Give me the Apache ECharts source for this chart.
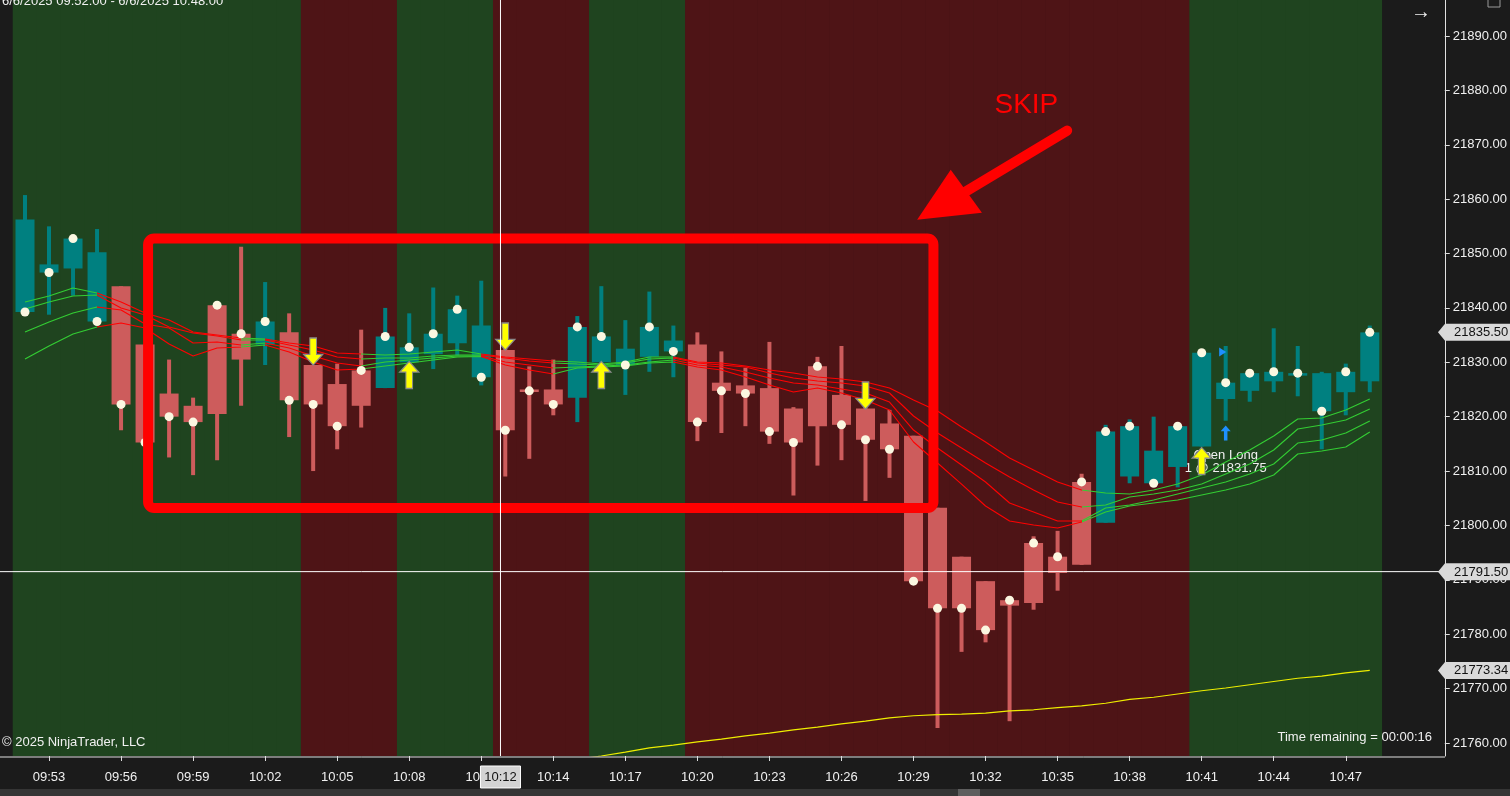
<!DOCTYPE html>
<html>
<head>
<meta charset="utf-8">
<script src="https://cdn.jsdelivr.net/npm/echarts@6/dist/echarts.min.js"></script>
<style>
html,body{margin:0;padding:0;background:#1b1b1b;}
#c{width:1510px;height:796px;}
</style>
</head>
<body>
<div id="c"></div>
<script>
const times = ['09:52','09:53','09:54','09:55','09:56','09:57','09:58','09:59',
'10:00','10:01','10:02','10:03','10:04','10:05','10:06','10:07','10:08','10:09',
'10:10','10:11','10:12','10:13','10:14','10:15','10:16','10:17','10:18','10:19',
'10:20','10:21','10:22','10:23','10:24','10:25','10:26','10:27','10:28','10:29',
'10:30','10:31','10:32','10:33','10:34','10:35','10:36','10:37','10:38','10:39',
'10:40','10:41','10:42','10:43','10:44','10:45','10:46','10:47','10:48'];

const open = [21856.25,21848,21847.25,21850.25,21844,21833.25,21824.25,21822,21820.5,21830.5,
21833.25,21835.5,21829.5,21826,21822,21825.25,21830,21831.5,21833.5,21836.75,
21832.25,21825,21825,21823.5,21830,21832.5,21831,21834,21833.25,21826.25,
21825.75,21825.25,21821.5,21818.25,21824,21821.5,21818.75,21816.5,21803.25,21794.25,
21789.75,21785.25,21785.75,21791.25,21792.75,21800.5,21809,21813.75,21810.75,21814.5,
21823.25,21824.75,21826.5,21827.75,21828,21824.5,21826.5];
const high = [21860.75,21855,21852.75,21854.5,21844,21833.25,21830.5,21823.5,21840.5,21851.25,
21844.75,21839,21829.5,21829.75,21836,21840,21839,21843.75,21842.25,21845,
21833,21829.25,21830.5,21838.5,21844,21837.75,21843,21836.75,21835.5,21832,
21829,21833.75,21821.75,21831,21833,21822,21821.25,21816.5,21803.25,21794.25,
21789.75,21786.25,21798,21799,21809.5,21818.5,21819.5,21820,21818.25,21831.75,
21833,21828,21836.25,21833,21828.25,21829.75,21836.75];
const low = [21839.25,21838.75,21842.25,21837.5,21817.5,21814.75,21812.5,21809.25,21812,21822,
21829.5,21816.25,21810,21814,21818,21825.25,21829.5,21828.75,21831.25,21825.75,
21809,21812.25,21820.25,21819,21829.5,21824,21828.25,21827.25,21815.5,21817,
21818.25,21815,21805.5,21811,21812,21804.5,21808.75,21789.75,21762.75,21776.75,
21778.5,21764,21784.5,21788,21792.75,21800.5,21807.75,21807.75,21807,21814.5,
21819.25,21822.75,21824.5,21823.75,21814,21820.25,21824.5];
const close = [21839.25,21846.5,21852.75,21837.5,21822.25,21815.25,21820,21819,21840.5,21835.25,
21837.5,21823,21822.25,21818.25,21828.5,21834.75,21832.75,21835.25,21839.75,21827.25,
21817.5,21824.75,21822.25,21836.5,21834.75,21829.5,21836.5,21832,21819,21824.75,
21824.25,21817.25,21815.25,21829.25,21818.5,21815.75,21814,21789.75,21784.75,21784.75,
21780.75,21786.25,21796.75,21794.25,21808,21817.25,21818.25,21807.75,21818.25,21831.75,
21826.25,21828,21828.25,21828,21821,21828.25,21835.5];

// bar paint: T = teal, R = salmon
const barPaint = 'TTTTRRRRRRTRRRRTTTTTRRRTTTTTRRRRRRRRRRRRRRRRRTTTTTTTTTTTT'.split('');
// background regime: G = green, R = red
const bandPaint = 'GGGGGGGGGGGGRRRRGGGGRRRRGGGGRRRRRRRRRRRRRRRRRRRRRGGGGGGGG'.split('');

const ribbon1 = [21841.08,21842.19,21843.66,21842.74,21841.08,21839.06,21837.77,21835.57,21835.01,21834.46,
21834.28,21833.54,21832.99,21831.7,21831.52,21831.34,21831.52,21831.89,21832.26,21831.52,
21830.97,21830.6,21830.23,21830.05,21829.68,21830.05,21830.97,21830.97,21830.05,21829.87,
21829.31,21828.58,21828.03,21827.29,21826.92,21826.37,21825.27,21823.06,21821.04,21818.1,
21815.34,21812.4,21810.19,21807.98,21806.51,21805.96,21805.78,21806.51,21807.61,21809.27,
21811.66,21813.87,21816.44,21819.57,21819.75,21821.22,21823.25];
const ribbon2 = [21839.8,21841.08,21842.19,21842.37,21839.98,21838.69,21836.49,21835.38,21834.83,21834.09,
21834.09,21833.18,21832.26,21830.97,21830.6,21830.78,21830.78,21831.15,21831.34,21831.34,
21830.78,21830.23,21829.87,21829.68,21829.5,21829.87,21830.6,21830.78,21829.87,21829.5,
21829.13,21828.03,21827.11,21826.56,21826.19,21825.64,21824.35,21820.12,21816.99,21814.23,
21811.48,21808.9,21806.51,21804.3,21803.39,21803.75,21805.22,21805.78,21806.51,21807.61,
21809.45,21811.29,21813.87,21817.73,21818.46,21819.38,21821.41];
const ribbon3 = [21835.57,21837.4,21839.06,21840.16,21839.61,21837.04,21836.3,21833.54,21833.73,21833.18,
21833.54,21832.62,21831.15,21829.87,21829.31,21830.05,21830.42,21830.78,21831.15,21831.15,
21830.05,21829.5,21828.95,21829.13,21829.31,21829.5,21830.05,21830.42,21829.5,21829.13,
21828.21,21827.11,21826.19,21825.82,21825.08,21824.35,21822.69,21817.54,21814.23,21811.11,
21807.98,21804.12,21802.47,21800.81,21800.81,21803.2,21803.75,21804.67,21805.78,21806.88,
21807.98,21809.45,21811.29,21815.15,21815.71,21816.99,21819.2];
const ribbon4 = [21830.6,21832.99,21835.2,21836.49,21837.22,21836.3,21833.36,21831.15,21832.62,21832.81,
21833.18,21831.89,21830.05,21828.58,21828.76,21829.31,21829.87,21830.42,21830.97,21831.06,
21829.5,21828.58,21827.84,21828.95,21829.13,21829.31,21829.87,21830.05,21829.13,21828.58,
21827.29,21825.82,21824.53,21825.27,21824.35,21823.06,21821.22,21815.34,21811.48,21807.61,
21803.57,21800.81,21800.08,21799.52,21800.63,21802.47,21803.57,21804.12,21804.67,21805.59,
21806.51,21807.61,21809.27,21813.13,21813.68,21814.42,21817.18];

const slowMA = [null,null,null,null,null,null,null,null,null,null,
null,null,null,null,null,null,null,null,null,null,
null,null,21756.3,21757.0,21757.6,21758.3,21759.1,21759.6,21760.2,21760.7,
21761.3,21761.8,21762.4,21762.9,21763.5,21764.0,21764.6,21765.0,21765.2,21765.3,
21765.5,21765.9,21766.1,21766.5,21766.8,21767.3,21768.0,21768.4,21769.0,21769.6,
21770.1,21770.7,21771.3,21771.9,21772.3,21772.9,21773.34];

const upSignalBars = [16, 24, 49];
const upSignalPrices = [21827.66, 21827.66, 21811.85];
const downSignalBars = [12, 20, 35];
const downSignalPrices = [21831.98, 21834.74, 21823.89];

const yTicks = [21760,21770,21780,21790,21800,21810,21820,21830,21840,21850,21860,21870,21880,21890];
const priceTags = [21835.50, 21791.50, 21773.34];
const crosshairPrice = 21791.50;

const TEAL = '#008080', SALMON = '#cd5c5c';
const BAND_G = '#1f441f', BAND_R = '#4e1416';
const RIB_G = '#32cd32', RIB_R = '#ff0000';
const FONT = '"Liberation Sans", Arial, sans-serif';

const chart = echarts.init(document.getElementById('c'), null, {renderer: 'canvas'});

// ribbon colour pieces (segment i-1 -> i takes the colour of bar i)
const pieces = [];
let start = 0;
for (let i = 1; i <= barPaint.length; i++) {
  if (i === barPaint.length || barPaint[i] !== barPaint[start]) {
    pieces.push({gt: start - 1, lte: i - 1, color: barPaint[start] === 'T' ? RIB_G : RIB_R});
    start = i;
  }
}

const Y_MIN = 21757.6, Y_MAX = 21896.62;

function ribbonSeries(data) {
  return {type: 'line', data: data, symbol: 'none', z: 4, lineStyle: {width: 1.1}, silent: true, animation: false};
}

const upArrow = 'path://M10,0 L20,11 L13.5,11 L13.5,28 L6.5,28 L6.5,11 L0,11 Z';
const downArrow = 'path://M6.5,0 L13.5,0 L13.5,17 L20,17 L10,28 L0,17 L6.5,17 Z';

chart.setOption({
  backgroundColor: '#1b1b1b',
  animation: false,
  grid: {left: 13, right: 127, top: 0, bottom: 40, containLabel: false},
  xAxis: {
    type: 'category', data: times, boundaryGap: true,
    axisLine: {show: false},
    axisTick: {show: true, alignWithLabel: true, length: 5, interval: (i) => (i - 1) % 3 === 0,
      lineStyle: {color: '#dcdcdc'}},
    axisLabel: {interval: (i) => (i - 1) % 3 === 0, color: '#f0f0f0', fontSize: 13, fontFamily: FONT, margin: 15},
    splitLine: {show: false}
  },
  yAxis: {
    type: 'value', position: 'right', offset: 63, min: Y_MIN, max: Y_MAX,
    axisLine: {show: true, lineStyle: {color: '#e0e0e0'}},
    axisTick: {show: true, length: 5, customValues: yTicks, lineStyle: {color: '#e0e0e0'}},
    axisLabel: {customValues: yTicks, color: '#f0f0f0', fontSize: 13, fontFamily: FONT, margin: 8,
      formatter: (v) => v.toFixed(2)},
    splitLine: {show: false}
  },
  visualMap: {type: 'piecewise', show: false, dimension: 0, seriesIndex: [2, 3, 4, 5], pieces: pieces},
  series: [
    { // 0 background regime bands
      type: 'custom', z: 0, silent: true,
      data: times.map((t, i) => [i, Y_MIN]),
      encode: {x: 0, y: 1},
      renderItem: function (params, api) {
        const i = api.value(0);
        const p = api.coord([i, Y_MIN]);
        const w = api.size([1, 0])[0];
        const cs = params.coordSys;
        return {type: 'rect', shape: {x: p[0] - w / 2 - 0.3, y: cs.y, width: w + 0.6, height: cs.height},
          style: {fill: bandPaint[i] === 'G' ? BAND_G : BAND_R}};
      }
    },
    { // 1 slow MA
      type: 'line', data: slowMA, symbol: 'none', z: 3, silent: true,
      lineStyle: {color: '#eeee00', width: 1.2}
    },
    ribbonSeries(ribbon1), ribbonSeries(ribbon2), ribbonSeries(ribbon3), ribbonSeries(ribbon4),
    { // 6 candles
      type: 'custom', z: 2, silent: true,
      data: times.map((t, i) => [i, open[i], close[i], low[i], high[i]]),
      encode: {x: 0, y: [1, 2, 3, 4]},
      renderItem: function (params, api) {
        const i = api.value(0);
        const o = api.coord([i, api.value(1)]);
        const c = api.coord([i, api.value(2)]);
        const l = api.coord([i, api.value(3)]);
        const h = api.coord([i, api.value(4)]);
        const slot = api.size([1, 0])[0];
        const bw = Math.round(slot * 0.8);
        const ww = 4;
        const top = Math.min(o[1], c[1]);
        const bh = Math.max(Math.abs(o[1] - c[1]), 2.5);
        const col = barPaint[i] === 'T' ? TEAL : SALMON;
        return {type: 'group', children: [
          {type: 'rect', shape: {x: o[0] - ww / 2, y: h[1], width: ww, height: Math.max(l[1] - h[1], 1)}, style: {fill: col}},
          {type: 'rect', shape: {x: o[0] - bw / 2, y: top, width: bw, height: bh}, style: {fill: col}}
        ]};
      }
    },
    { // 7 close dots
      type: 'scatter', data: close, symbol: 'circle', symbolSize: 9, z: 6, silent: true,
      itemStyle: {color: '#fbf7e1', opacity: 1}
    },
    { // 8 long signals
      type: 'scatter', z: 7, silent: true,
      data: upSignalBars.map((b, k) => [b, upSignalPrices[k]]),
      symbol: upArrow, symbolSize: [19, 27],
      itemStyle: {color: '#ffff00', borderColor: '#8a8a8a', borderWidth: 1.2, opacity: 1}
    },
    { // 9 short signals
      type: 'scatter', z: 7, silent: true,
      data: downSignalBars.map((b, k) => [b, downSignalPrices[k]]),
      symbol: downArrow, symbolSize: [19, 27],
      itemStyle: {color: '#ffff00', borderColor: '#8a8a8a', borderWidth: 1.2, opacity: 1}
    },
    { // 10 entry fill marker
      type: 'scatter', z: 7, silent: true,
      data: [[50, 21817.0]], symbol: upArrow, symbolSize: [10, 15],
      itemStyle: {color: '#1e90ff', opacity: 1}
    },
    { // 11 entry triangle
      type: 'scatter', z: 7, silent: true,
      data: [[50, 21831.9]], symbol: 'triangle', symbolRotate: -90, symbolSize: [9, 7],
      symbolOffset: [-3, 0],
      itemStyle: {color: '#1e90ff', opacity: 1}
    }
  ]
});

// ---------- overlays anchored through the chart's own scales ----------
function px(idx, price) {
  const a = chart.convertToPixel({gridIndex: 0}, [0, price]);
  const b = chart.convertToPixel({gridIndex: 0}, [1, price]);
  return [a[0] + (b[0] - a[0]) * idx, a[1]];
}
function txt(text, x, y, opts, z) {
  return {type: 'text', silent: true, z: z || 100,
    style: Object.assign({text: text, x: x, y: y, fill: '#f0f0f0', font: '13px ' + FONT,
      textAlign: 'left', align: 'left', textVerticalAlign: 'middle', verticalAlign: 'middle'}, opts || {})};
}

const g = [];
const gridBottom = px(0, Y_MIN)[1];
const gridTop = px(0, Y_MAX)[1];
const axisX = 1445;

// skip box
const r1 = px(5.125, 21852.75), r2 = px(37.83, 21803.2);
g.push({type: 'rect', silent: true, z: 50,
  shape: {x: r1[0], y: r1[1], width: r2[0] - r1[0], height: r2[1] - r1[1], r: 6},
  style: {fill: 'none', stroke: '#ff0000', lineWidth: 10}});

// big arrow
const aS = px(43.4, 21872.6), aE = px(39.1, 21861.2);
g.push({type: 'line', silent: true, z: 50, shape: {x1: aS[0], y1: aS[1], x2: aE[0], y2: aE[1]},
  style: {stroke: '#ff0000', lineWidth: 10, lineCap: 'round'}});
const tip = px(37.15, 21856.2), b1 = px(38.55, 21865.4), b2 = px(39.85, 21857.5);
g.push({type: 'polygon', silent: true, z: 50,
  shape: {points: [tip, b1, b2]}, style: {fill: '#ff0000'}});
const skipPos = px(41.7, 21877.3);
g.push(txt('SKIP', skipPos[0], skipPos[1], {fill: '#ff0000', font: '28px ' + FONT, textAlign: 'center', align: 'center'}));

// trade label (drawn under the signal arrow, as in the platform)
const ol1 = px(50, 21812.95), ol2 = px(50, 21810.4);
g.push(txt('Open Long', ol1[0], ol1[1], {textAlign: 'center', align: 'center'}, 1));
g.push(txt('1 @ 21831.75', ol2[0], ol2[1], {textAlign: 'center', align: 'center'}, 1));

// crosshair
const chY = px(0, crosshairPrice)[1];
const chX = px(19.8, crosshairPrice)[0];
g.push({type: 'line', silent: true, z: 60, shape: {x1: 0, y1: chY, x2: axisX, y2: chY}, style: {stroke: '#ffffff', lineWidth: 1}});
g.push({type: 'line', silent: true, z: 60, shape: {x1: chX, y1: gridTop, x2: chX, y2: gridBottom}, style: {stroke: '#ffffff', lineWidth: 1}});

// bottom axis line spanning the whole panel
g.push({type: 'line', silent: true, z: 60, shape: {x1: 0, y1: gridBottom + 1, x2: axisX, y2: gridBottom + 1}, style: {stroke: '#e0e0e0', lineWidth: 1}});
// left dark strip
g.push({type: 'rect', silent: true, z: 40, shape: {x: 0, y: gridTop, width: 12, height: gridBottom - gridTop}, style: {fill: '#1b1b1b'}});

// time label box
g.push({type: 'rect', silent: true, z: 90, shape: {x: chX - 20, y: gridBottom + 10, width: 40, height: 22},
  style: {fill: '#d3d3d3', stroke: '#ffffff', lineWidth: 1}});
g.push(txt('10:12', chX, gridBottom + 21, {fill: '#111', textAlign: 'center', align: 'center'}, 101));

// price tags on the axis
priceTags.forEach(function (p) {
  const y = px(0, p)[1];
  g.push({type: 'polygon', silent: true, z: 90,
    shape: {points: [[axisX - 7, y], [axisX, y - 8.5], [1512, y - 8.5], [1512, y + 8.5], [axisX, y + 8.5]]},
    style: {fill: '#d9d9d9'}});
  g.push(txt(p.toFixed(2), axisX + 9, y + 0.5, {fill: '#111', font: '13px ' + FONT}));
});

// header / footer texts
g.push(txt('6/6/2025 09:52:00 - 6/6/2025 10:48:00', 2, 1, {font: '13px ' + FONT}));
g.push(txt('\u2192', 1421, 12, {font: 'bold 20px ' + FONT, textAlign: 'center', align: 'center'}));
g.push({type: 'rect', silent: true, z: 90, shape: {x: 1488, y: -4, width: 12, height: 11}, style: {fill: 'none', stroke: '#9a9a9a', lineWidth: 1}});
g.push(txt('\u00a9 2025 NinjaTrader, LLC', 2, 742, {font: '13px ' + FONT}));
g.push(txt('Time remaining = 00:00:16', 1432, 737, {font: '13px ' + FONT, textAlign: 'right', align: 'right'}));

// scrollbar
g.push({type: 'rect', silent: true, z: 90, shape: {x: 0, y: 789, width: 1510, height: 7}, style: {fill: '#353535'}});
g.push({type: 'rect', silent: true, z: 91, shape: {x: 958, y: 789, width: 22, height: 7}, style: {fill: '#5e5e5e'}});

chart.setOption({graphic: {elements: g}});
</script>
</body>
</html>
